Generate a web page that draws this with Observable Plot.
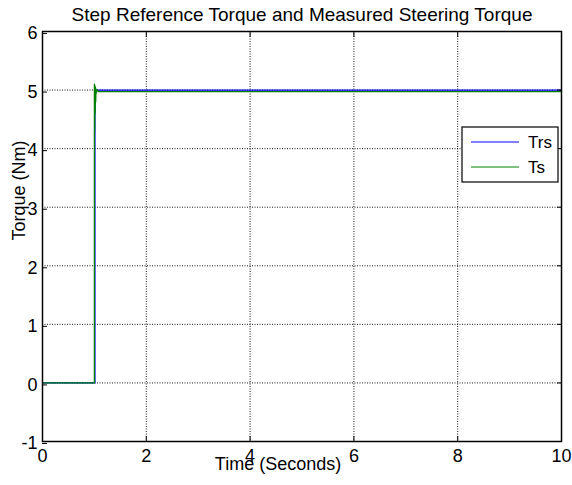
<!DOCTYPE html>
<html>
<head>
<meta charset="utf-8">
<script src="https://cdn.jsdelivr.net/npm/d3@7"></script>
<script src="https://cdn.jsdelivr.net/npm/@observablehq/plot@0.6"></script>
<style>
  html, body { margin: 0; padding: 0; background: #fff; }
  #chart svg { display: block; }
</style>
</head>
<body>
<div id="chart"></div>
<script>
// ---- data ----
const titleText = "Step Reference Torque and Measured Steering Torque";
const xLabel = "Time (Seconds)";
const yLabel = "Torque (Nm)";
const xTicks = [0, 2, 4, 6, 8, 10];
const yTicks = [-1, 0, 1, 2, 3, 4, 5, 6];
const seriesNames = ["Trs", "Ts"];
const seriesColors = ["#0000ff", "#008000"];

// Trs: step reference torque
const trsTime = [0, 1.01, 1.01, 10];
const trsValue = [0, 0, 5.0, 5.0];

// Ts: measured steering torque
const tsTime = [0, 1.0, 1.0, 1.005, 1.01, 1.015, 1.02, 1.025, 1.03, 1.04, 1.05, 1.08, 10];
const tsValue = [0, 0, 5.1, 4.3, 5.08, 4.6, 5.05, 4.8, 5.02, 4.95, 5.0, 4.975, 4.975];

const trs = trsTime.map((t, i) => ({t, v: trsValue[i]}));
const ts = tsTime.map((t, i) => ({t, v: tsValue[i]}));

const W = 572, H = 485;
const font = "'Liberation Sans', Arial, sans-serif";
const fmt = d => String(d);

const plot = Plot.plot({
  width: W,
  height: H,
  marginLeft: 42,
  marginRight: 11,
  marginTop: 31,
  marginBottom: 44,
  style: {fontFamily: font, fontSize: "18px", color: "#000", background: "#fff"},
  x: {domain: [0, 10], ticks: xTicks},
  y: {domain: [-1, 6], ticks: yTicks},
  marks: [
    Plot.gridX(xTicks, {stroke: "#000", strokeOpacity: 0.9, strokeDasharray: "1,1.5", strokeWidth: 1}),
    Plot.gridY(yTicks, {stroke: "#000", strokeOpacity: 0.9, strokeDasharray: "1,1.5", strokeWidth: 1}),
    Plot.line(trs, {x: "t", y: "v", stroke: seriesColors[0], strokeWidth: 1.3}),
    Plot.line(ts, {x: "t", y: "v", stroke: seriesColors[1], strokeWidth: 1.3}),
    Plot.axisX(xTicks, {anchor: "bottom", tickSize: -5, tickPadding: 13, label: null, fontSize: 18, tickFormat: fmt}),
    Plot.axisX(xTicks, {anchor: "top", tickSize: -5, label: null, tickFormat: () => ""}),
    Plot.axisY(yTicks, {anchor: "left", tickSize: -5, tickPadding: 10, dy: 2, label: null, fontSize: 18, tickFormat: fmt}),
    Plot.axisY(yTicks, {anchor: "right", tickSize: -5, label: null, tickFormat: () => ""}),
    Plot.frame({stroke: "#000", strokeWidth: 1.5}),
    Plot.text([xLabel], {frameAnchor: "bottom", dx: -24, dy: 28, fontSize: 18}),
    Plot.text([yLabel], {frameAnchor: "left", dx: -23, dy: 4, rotate: -90, fontSize: 18}),
    Plot.text([titleText], {frameAnchor: "top", dx: 0, dy: -24, fontSize: 19})
  ]
});

// legend box (top-right inside plot)
const svg = d3.select(plot);
const lg = svg.append("g").attr("font-family", font).attr("font-size", 17).attr("text-anchor", "start");
lg.append("rect").attr("x", 462).attr("y", 127).attr("width", 96).attr("height", 55)
  .attr("fill", "#fff").attr("stroke", "#000").attr("stroke-width", 1.2);
seriesNames.forEach((name, i) => {
  const y = 142 + i * 25;
  lg.append("line").attr("x1", 471).attr("x2", 519).attr("y1", y).attr("y2", y)
    .attr("stroke", seriesColors[i]).attr("stroke-width", 1.2);
  lg.append("text").attr("x", 528).attr("y", y).attr("dy", "0.35em")
    .attr("text-anchor", "start").attr("fill", "#000").text(name);
});

document.getElementById("chart").appendChild(plot);
</script>
</body>
</html>
